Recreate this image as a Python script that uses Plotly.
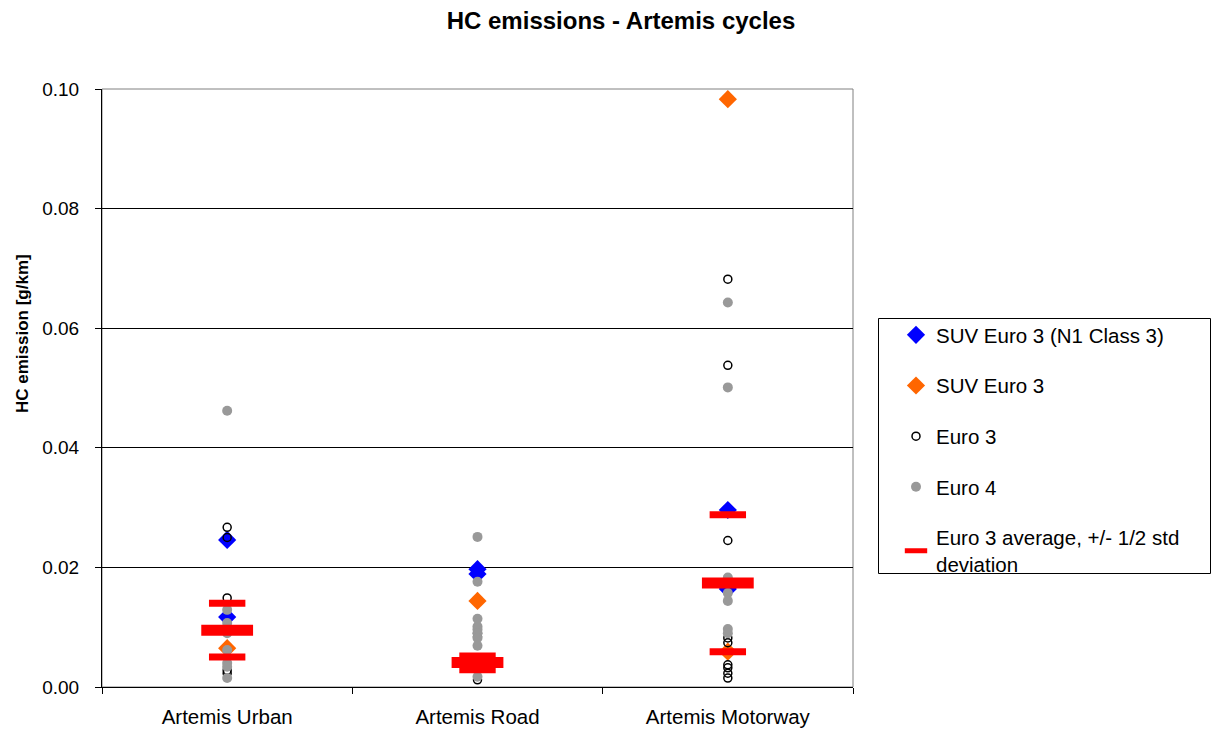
import plotly.graph_objects as go

categories = ["Artemis Urban", "Artemis Road", "Artemis Motorway"]

# SUV Euro 3 (N1 Class 3) - blue diamonds
suv_n1_cat = ["Artemis Urban", "Artemis Urban", "Artemis Road", "Artemis Road",
              "Artemis Motorway", "Artemis Motorway"]
suv_n1_val = [0.0246, 0.0117, 0.0197, 0.0189, 0.0296, 0.0164]

# SUV Euro 3 - orange diamonds
suv_cat = ["Artemis Urban", "Artemis Road", "Artemis Motorway", "Artemis Motorway"]
suv_val = [0.0065, 0.0144, 0.0983, 0.0059]

# Euro 3 - open circles
euro3_cat = (["Artemis Urban"] * 5 + ["Artemis Road"] * 3 + ["Artemis Motorway"] * 9)
euro3_val = [0.0267, 0.0250, 0.0149, 0.0028, 0.0023,
             0.0090, 0.0084, 0.0012,
             0.0682, 0.0538, 0.0245, 0.0082, 0.0074, 0.0037, 0.0032, 0.0023, 0.0015]

# Euro 4 - grey dots
euro4_cat = (["Artemis Urban"] * 8 + ["Artemis Road"] * 9 + ["Artemis Motorway"] * 7)
euro4_val = [0.0462, 0.0129, 0.0107, 0.0090, 0.0062, 0.0040, 0.0034, 0.0015,
             0.0251, 0.0176, 0.0114, 0.0101, 0.0096, 0.0090, 0.0082, 0.0069, 0.0017,
             0.0643, 0.0501, 0.0183, 0.0157, 0.0144, 0.0097, 0.0090]

# Euro 3 average and +/- 1/2 std deviation
avg_val = [0.0095, 0.0041, 0.0174]
upper_val = [0.0140, 0.0052, 0.0288]
lower_val = [0.0050, 0.0029, 0.0059]

FONT = "Liberation Sans, Arial, sans-serif"

fig = go.Figure()

fig.add_trace(go.Scatter(
    x=suv_n1_cat, y=suv_n1_val, mode="markers", name="SUV Euro 3 (N1 Class 3)",
    legendgroup="a",
    marker=dict(symbol="diamond", size=14, color="#0000FF", line=dict(width=0))))
fig.add_trace(go.Scatter(
    x=suv_cat, y=suv_val, mode="markers", name="SUV Euro 3",
    legendgroup="b",
    marker=dict(symbol="diamond", size=14, color="#FF6600", line=dict(width=0))))
fig.add_trace(go.Scatter(
    x=euro3_cat, y=euro3_val, mode="markers", name="Euro 3",
    legendgroup="c",
    marker=dict(symbol="circle-open", size=8, color="#000000", line=dict(width=1.5))))
fig.add_trace(go.Scatter(
    x=euro4_cat, y=euro4_val, mode="markers", name="Euro 4",
    legendgroup="d",
    marker=dict(symbol="circle", size=10, color="#999999", line=dict(width=0))))
fig.add_trace(go.Scatter(
    x=categories, y=upper_val, mode="markers", showlegend=False,
    legendgroup="e",
    marker=dict(symbol="line-ew", size=26, color="#FF0000",
                line=dict(width=7, color="#FF0000"))))
fig.add_trace(go.Scatter(
    x=categories, y=lower_val, mode="markers", showlegend=False,
    legendgroup="e",
    marker=dict(symbol="line-ew", size=26, color="#FF0000",
                line=dict(width=7, color="#FF0000"))))
fig.add_trace(go.Scatter(
    x=categories, y=avg_val, mode="markers",
    name="Euro 3 average, +/- 1/2 std<br>deviation",
    legendgroup="e",
    marker=dict(symbol="line-ew", size=37, color="#FF0000",
                line=dict(width=11, color="#FF0000"))))

L, R, T, B = 102, 360, 89, 44
W, H = 1213, 731
pw = W - L - R
ph = H - T - B

fig.update_layout(
    width=W, height=H,
    margin=dict(l=L, r=R, t=T, b=B, pad=0, autoexpand=False),
    paper_bgcolor="white", plot_bgcolor="white",
    font=dict(family=FONT, size=19, color="black"),
    title=dict(text="<b>HC emissions - Artemis cycles</b>",
               x=621 / W, xanchor="center", xref="container",
               y=1 - 21 / H, yanchor="middle", yref="container",
               font=dict(family=FONT, size=24, color="black")),
    showlegend=True,
    legend=dict(x=(896 - L) / pw, xanchor="left", y=(T + ph - 315) / ph, yanchor="top",
                bgcolor="rgba(0,0,0,0)", borderwidth=0,
                font=dict(family=FONT, size=20.5, color="black"),
                tracegroupgap=21, traceorder="grouped"),
    xaxis=dict(type="category", categoryorder="array", categoryarray=categories,
               range=[-0.5, 2.5], tickson="boundaries", ticks="outside", ticklen=6,
               tickcolor="black", showline=True, linecolor="black", linewidth=1,
               showgrid=False, zeroline=False, tickfont=dict(size=20.5),
               ticklabelstandoff=11, automargin=False),
    yaxis=dict(range=[0, 0.1], dtick=0.02, tickformat=".2f", ticks="outside",
               ticklen=6, tickcolor="black", showline=True, linecolor="black",
               linewidth=1, showgrid=True, gridcolor="black", gridwidth=1,
               zeroline=False, tickfont=dict(size=19), ticklabelstandoff=12,
               automargin=False),
    shapes=[
        dict(type="rect", xref="paper", yref="paper", x0=0, x1=1, y0=0, y1=1,
             line=dict(color="#808080", width=1), layer="below"),
        dict(type="rect", xref="paper", yref="paper",
             x0=(878.5 - L) / pw, x1=(1210.5 - L) / pw,
             y0=(T + ph - 573.5) / ph, y1=(T + ph - 318.5) / ph,
             line=dict(color="black", width=1)),
    ],
    annotations=[
        dict(text="<b>HC emission [g/km]</b>", xref="paper", yref="paper",
             x=(22 - L) / pw, y=(T + ph - 334) / ph, xanchor="center", yanchor="middle",
             textangle=-90, showarrow=False,
             font=dict(family=FONT, size=17, color="black")),
    ],
)

fig.write_html("out.html")
